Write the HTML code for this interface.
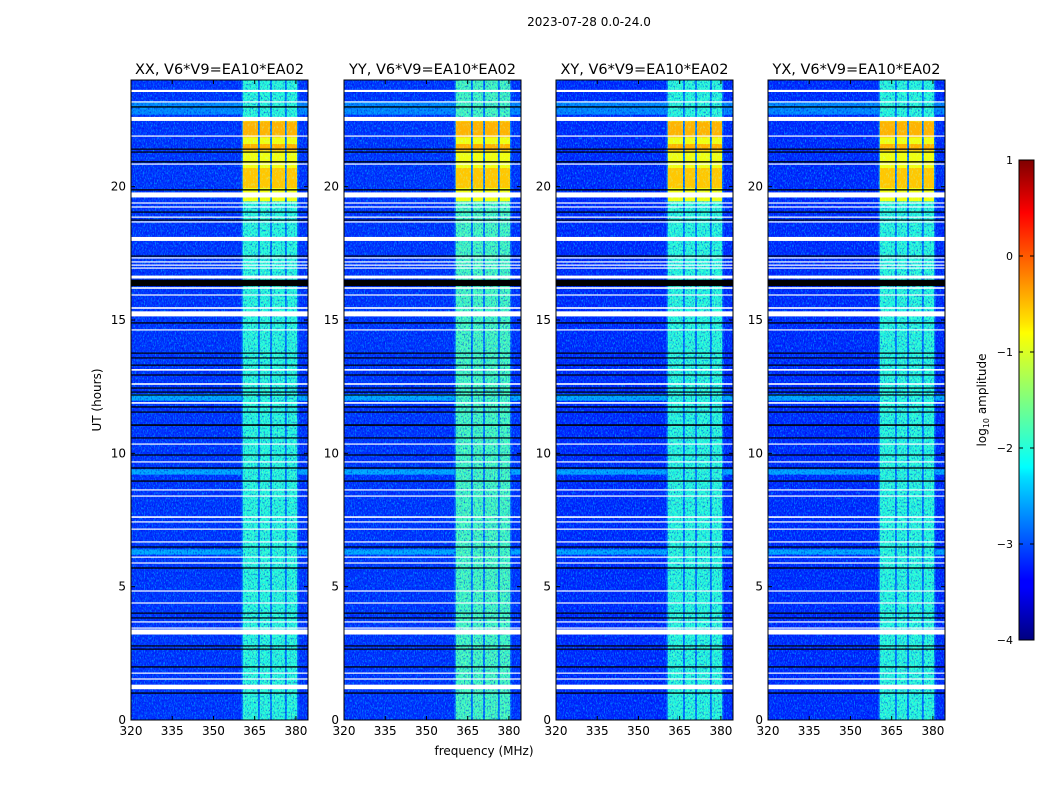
<!DOCTYPE html>
<html><head><meta charset="utf-8">
<style>
body{margin:0;background:#fff;}
svg text{font-family:"DejaVu Sans","Liberation Sans",sans-serif;fill:#000;}
</style></head>
<body>
<svg id="fig" width="1050" height="800" viewBox="0 0 1050 800" xmlns="http://www.w3.org/2000/svg">
<defs>
<filter id="noise" x="0" y="0" width="100%" height="100%">
<feTurbulence type="fractalNoise" baseFrequency="0.9 0.4" numOctaves="2" seed="3"/>
<feColorMatrix type="matrix" values="0 0 0 0 0  0 0 0 0 0.6  0 0 0 0 1  3.2 0 0 0 -1.5"/>
</filter>
<filter id="noise2" x="0" y="0" width="100%" height="100%">
<feTurbulence type="fractalNoise" baseFrequency="0.7 0.5" numOctaves="2" seed="11"/>
<feColorMatrix type="matrix" values="0 0 0 0 0  0 0 0 0 0  0 0 0 0 0.7  3 0 0 0 -1.5"/>
</filter>
<filter id="noise3" x="0" y="0" width="100%" height="100%">
<feTurbulence type="fractalNoise" baseFrequency="0.9 0.5" numOctaves="2" seed="7"/>
<feColorMatrix type="matrix" values="0 0 0 0 0.7  0 0 0 0 1  0 0 0 0 0.3  3 0 0 0 -1.5"/>
</filter>
<filter id="noise4" x="0" y="0" width="100%" height="100%">
<feTurbulence type="fractalNoise" baseFrequency="0.6 0.3" numOctaves="2" seed="5"/>
<feColorMatrix type="matrix" values="0 0 0 0 0.5  0 0 0 0 1  0 0 0 0 0.5  3 0 0 0 -1.6"/>
</filter>
<linearGradient id="jetgrad" x1="0" y1="1" x2="0" y2="0">
<stop offset="0" stop-color="#00007f"/><stop offset="0.11" stop-color="#0000ff"/>
<stop offset="0.125" stop-color="#0000ff"/><stop offset="0.34" stop-color="#00dfff"/>
<stop offset="0.36" stop-color="#0ff"/><stop offset="0.5" stop-color="#7fff7f"/>
<stop offset="0.64" stop-color="#ff0"/><stop offset="0.66" stop-color="#ffe600"/>
<stop offset="0.89" stop-color="#f00"/><stop offset="1" stop-color="#7f0000"/>
</linearGradient>
</defs>
<text x="589" y="26" font-size="12" text-anchor="middle">2023-07-28 0.0-24.0</text>
<text x="101" y="400" font-size="12" text-anchor="middle" transform="rotate(-90 101 400)">UT (hours)</text>
<text x="484" y="755" font-size="12" text-anchor="middle">frequency (MHz)</text>
<g id="panels"></g>
<g id="cbar"></g>
</svg>
<script>
// ---- data ----
const panelTitles = ["XX, V6*V9=EA10*EA02","YY, V6*V9=EA10*EA02","XY, V6*V9=EA10*EA02","YX, V6*V9=EA10*EA02"];
const xTicks = [320,335,350,365,380];
const yTicks = [0,5,10,15,20];
const cbTicks = [1,0,-1,-2,-3,-4];
const bgLevel = [-3.15,-3.15,-3.2,-3.2];
const bandLevel = [-1.95,-1.8,-1.95,-1.95];
const bands = [[360.7,366.2],[366.9,370.6],[371.3,376.0],[376.7,380.4]];
const rfiBlocks = [[19.45,22.6,-0.95],[21.85,22.45,-0.5],[21.35,21.6,-0.5],[19.95,20.7,-0.6]];
const brightRows = [[12.1,0.25,-2.4],[9.3,0.2,-2.4],[6.3,0.2,-2.4],[22.95,0.5,-2.6]];
const whiteRows = [[23.59,0.08],[23.18,0.04],[22.54,0.15],[21.9,0.04],[20.85,0.04],[19.69,0.19],[19.39,0.04],[19.24,0.04],[18.86,0.04],[18.68,0.04],[18.04,0.15],[17.33,0.04],[17.18,0.04],[17.06,0.04],[16.95,0.04],[16.61,0.11],[16.2,0.06],[15.94,0.04],[15.45,0.06],[15.23,0.19],[14.63,0.04],[13.13,0.06],[12.6,0.06],[11.89,0.06],[10.35,0.04],[9.68,0.04],[8.63,0.04],[8.4,0.04],[7.61,0.06],[7.43,0.04],[7.16,0.04],[6.68,0.04],[6.11,0.04],[5.89,0.04],[4.84,0.04],[4.39,0.04],[3.68,0.04],[3.45,0.04],[3.3,0.19],[1.76,0.04],[1.54,0.04],[1.24,0.17]];
const blackRows = [[22.99,0.05],[21.41,0.04],[21.3,0.04],[20.93,0.05],[19.88,0.05],[19.05,0.04],[18.75,0.04],[17.4,0.04],[16.39,0.24],[14.89,0.05],[13.76,0.04],[13.58,0.04],[13.31,0.04],[12.94,0.04],[12.45,0.04],[12.3,0.04],[12.19,0.04],[11.74,0.05],[11.55,0.04],[11.06,0.06],[10.58,0.04],[9.94,0.04],[9.45,0.05],[8.96,0.05],[6.49,0.04],[5.7,0.05],[4.01,0.04],[3.83,0.04],[2.78,0.04],[2.66,0.04],[1.99,0.05],[1.01,0.05]];

// ---- layout ----
const panelX = [131,344,556,768], PW=177, PT=80, PB=720;
const fMin=320, fMax=384.4, hMin=0, hMax=24;
const NS="http://www.w3.org/2000/svg";
function jet(v){
  let t=Math.max(0,Math.min(1,(v+4)/5));
  const r=Math.max(0,Math.min(1,1.5-Math.abs(4*t-3)));
  const g=Math.max(0,Math.min(1,1.5-Math.abs(4*t-2)));
  const b=Math.max(0,Math.min(1,1.5-Math.abs(4*t-1)));
  return `rgb(${Math.round(r*255)},${Math.round(g*255)},${Math.round(b*255)})`;
}
function mk(tag,attrs,parent){const e=document.createElementNS(NS,tag);for(const k in attrs)e.setAttribute(k,attrs[k]);parent.appendChild(e);return e;}
const root=document.getElementById('panels');
panelTitles.forEach((title,p)=>{
  const x0=panelX[p];
  const X=f=>x0+(f-fMin)/(fMax-fMin)*PW;
  const Y=h=>PB-(h-hMin)/(hMax-hMin)*(PB-PT);
  const g=mk('g',{},root);
  
  
  const cp=mk('clipPath',{id:'cp'+p},g);
  mk('rect',{x:x0,y:PT,width:PW,height:PB-PT},cp);
  const plot=mk('g',{'clip-path':`url(#cp${p})`},g);
  const bg=mk('rect',{x:x0,y:PT,width:PW,height:PB-PT,fill:jet(bgLevel[p])},plot);
  
  
  brightRows.forEach(r=>{
    const e=mk('rect',{x:x0,y:Y(r[0]+r[1]/2),width:PW,height:Y(r[0]-r[1]/2)-Y(r[0]+r[1]/2),fill:jet(r[2]),opacity:0.8},plot);
    
    
  });
  mk('rect',{x:X(360.2),y:PT,width:X(380.9)-X(360.2),height:PB-PT,fill:jet(-2.8)},plot);
  bands.forEach(b=>{
    const e=mk('rect',{x:X(b[0]),y:PT,width:X(b[1])-X(b[0]),height:PB-PT,fill:jet(bandLevel[p])},plot);
    
    
  });
  mk('rect',{x:x0,y:PT,width:PW,height:PB-PT,filter:'url(#noise)',opacity:0.6},plot);
  mk('rect',{x:x0,y:PT,width:PW,height:PB-PT,filter:'url(#noise2)',opacity:0.6},plot);
  const bandNoise=mk('g',{opacity:0.45},plot);
  bands.forEach(b=>{
    mk('rect',{x:X(b[0]),y:PT,width:X(b[1])-X(b[0]),height:PB-PT,filter:'url(#noise3)'},bandNoise);
  });
  const rg=mk('g',{},plot);
  rfiBlocks.forEach(r=>{
    bands.forEach(b=>{
      const e=mk('rect',{x:X(b[0]),y:Y(r[1]),width:X(b[1])-X(b[0]),height:Y(r[0])-Y(r[1]),fill:jet(r[2])},rg);
      
      
    });
  });
  const r0=rfiBlocks[0];
  bands.forEach(b=>{
    mk('rect',{x:X(b[0]),y:Y(r0[1]),width:X(b[1])-X(b[0]),height:Y(r0[0])-Y(r0[1]),filter:'url(#noise4)',opacity:0.5},plot);
  });
  whiteRows.forEach(r=>{
    const y1=Y(r[0]+r[1]/2), y2=Y(r[0]-r[1]/2);
    const e=mk('rect',{x:x0,y:y1,width:PW,height:Math.max(1.2,y2-y1),fill:'#fff'},plot);
    
    
  });
  blackRows.forEach(r=>{
    const y1=Y(r[0]+r[1]/2), y2=Y(r[0]-r[1]/2);
    const e=mk('rect',{x:x0,y:y1,width:PW,height:Math.max(1.2,y2-y1),fill:'#000'},plot);
    
    
  });
  mk('rect',{x:x0,y:PT,width:PW,height:PB-PT,fill:'none',stroke:'#000','stroke-width':1},g);
  const t=mk('text',{x:x0+PW/2,y:74,'font-size':14.5,'text-anchor':'middle'},g);
  t.textContent=title;
  
  
  xTicks.forEach(v=>{
    const x=X(v);
    mk('line',{x1:x,x2:x,y1:PB,y2:PB-4,stroke:'#000'},g);
    mk('line',{x1:x,x2:x,y1:PT,y2:PT+4,stroke:'#000'},g);
    const l=mk('text',{x:x,y:PB+15,'font-size':12,'text-anchor':'middle'},g);
    l.textContent=v;
    
    
  });
  yTicks.forEach(v=>{
    const y=Y(v);
    mk('line',{x1:x0,x2:x0+4,y1:y,y2:y,stroke:'#000'},g);
    mk('line',{x1:x0+PW,x2:x0+PW-4,y1:y,y2:y,stroke:'#000'},g);
    const l=mk('text',{x:x0-5,y:y+4,'font-size':12,'text-anchor':'end'},g);
    l.textContent=v;
    
    
  });
});
// colorbar
const cb=document.getElementById('cbar');
const CX=1019, CW=15, CT=160, CBt=640;
const CY=v=>CBt-(v+4)/5*(CBt-CT);
const cbr=mk('rect',{x:CX,y:CT,width:CW,height:CBt-CT,fill:'url(#jetgrad)',stroke:'#000'},cb);


cbTicks.forEach(v=>{
  const y=CY(v);
  mk('line',{x1:CX,x2:CX+4,y1:y,y2:y,stroke:'#000'},cb);
  mk('line',{x1:CX+CW,x2:CX+CW-4,y1:y,y2:y,stroke:'#000'},cb);
  const l=mk('text',{x:CX-6,y:y+4,'font-size':11,'text-anchor':'end'},cb);
  l.textContent=v<0?'\u2212'+(-v):String(v);
  
  
});
const cl=mk('text',{x:986,y:400,'font-size':12,'text-anchor':'middle',transform:'rotate(-90 986 400)'},cb);
cl.innerHTML='log<tspan font-size="8" dy="3">10</tspan><tspan dy="-3"> amplitude</tspan>';


</script>
</body></html>
